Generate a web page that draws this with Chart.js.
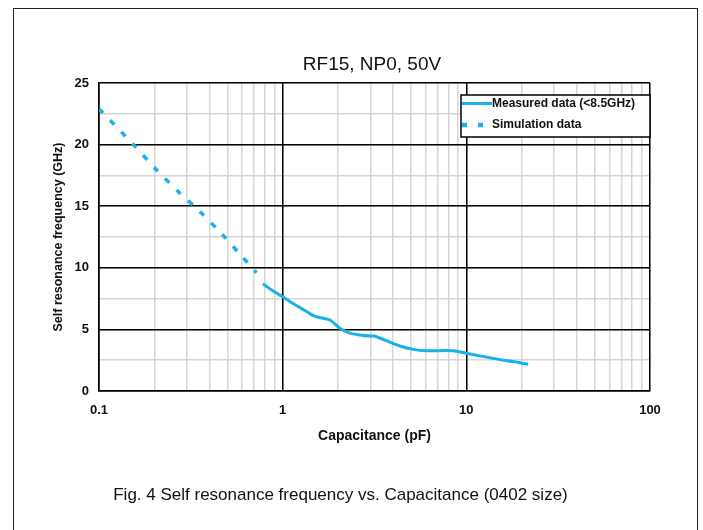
<!DOCTYPE html>
<html>
<head>
<meta charset="utf-8">
<title>Self resonance frequency vs. Capacitance</title>
<script src="https://cdn.jsdelivr.net/npm/chart.js@4.4.1/dist/chart.umd.min.js"></script>
<style>
  html, body { margin: 0; padding: 0; background: #fff; }
  body { width: 703px; height: 530px; position: relative; overflow: hidden; font-family: "Liberation Sans", Arial, sans-serif; }
  #frame { position: absolute; left: 13px; top: 8px; width: 683px; height: 540px; border: 1.5px solid #222; }
  #chart { position: absolute; left: 0; top: 0; }
  .txt { position: absolute; text-align: center; color: #111; white-space: nowrap; }
  #title { left: 0; width: 744px; top: 52px; font-size: 19px; line-height: 23px; }
  #caption { left: 0; width: 681px; top: 485px; font-size: 17px; line-height: 20px; }
</style>
</head>
<body>
<div id="frame"></div>
<canvas id="chart" width="703" height="530"></canvas>
<div id="title" class="txt">RF15, NP0, 50V</div>
<div id="caption" class="txt">Fig. 4 Self resonance frequency vs. Capacitance (0402 size)</div>
<script>
// capacitance (pF) / self resonance frequency (GHz)
const measuredCap = [0.78, 0.88, 1.0, 1.14, 1.35, 1.5, 1.66, 1.81, 2.05, 2.32, 2.64, 3.0, 3.16, 3.4, 4.35, 5.14, 6.08, 8.5, 10, 14, 16.6, 19.6, 21.7];
const measuredSrf = [8.7, 8.15, 7.65, 7.1, 6.45, 6.05, 5.9, 5.76, 5.1, 4.7, 4.55, 4.46, 4.46, 4.28, 3.65, 3.38, 3.27, 3.27, 3.06, 2.65, 2.46, 2.3, 2.17];
const simCap = [0.1, 0.154, 0.204, 0.274, 0.355, 0.466, 0.598, 0.72];
const simSrf = [22.9, 20.0, 18.0, 16.1, 14.55, 12.75, 10.95, 9.6];

const xTickLabels = [0.1, 1, 10, 100];
const yTickLabels = [0, 5, 10, 15, 20, 25];

const blue = '#19b1ea';
const fontFamily = '"Liberation Sans", Arial, sans-serif';

// grey minor grid: 2..9 within each decade, and half steps on y
const minorX = [];
for (let i = 0; i < xTickLabels.length - 1; i++) {
  for (let k = 1; k <= 9; k++) minorX.push(+(xTickLabels[i] * k).toPrecision(2));
}
minorX.push(xTickLabels[xTickLabels.length - 1]);
const minorY = [];
for (let v = 0; v <= 25; v += 2.5) minorY.push(v);

function toPoints(xs, ys) {
  return xs.map((x, i) => ({ x: x, y: ys[i] }));
}

// legend drawn as a framed box in the upper right of the plot
const boxLegend = {
  id: 'boxLegend',
  afterDraw(chart) {
    const { ctx, chartArea } = chart;
    const w = 189, h = 42;
    const left = chartArea.right - w, top = chartArea.top + 12;
    ctx.save();
    ctx.fillStyle = '#fff';
    ctx.fillRect(left, top, w, h);
    ctx.strokeStyle = '#000';
    ctx.lineWidth = 1.5;
    ctx.strokeRect(left, top, w, h);
    ctx.font = 'bold 12px ' + fontFamily;
    ctx.textBaseline = 'middle';
    chart.data.datasets.forEach((ds, i) => {
      const y = top + 8.5 + i * 21.5;
      ctx.beginPath();
      ctx.setLineDash(ds.borderDash ? [5, 11] : []);
      ctx.strokeStyle = ds.borderColor;
      ctx.lineWidth = ds.borderDash ? 4.5 : 3;
      ctx.moveTo(left + 1, y);
      ctx.lineTo(left + 31, y);
      ctx.stroke();
      ctx.setLineDash([]);
      ctx.fillStyle = '#111';
      ctx.fillText(ds.label, left + 31, y);
    });
    ctx.restore();
  }
};

const data = {
  datasets: [
    {
      label: 'Measured data (<8.5GHz)',
      data: toPoints(measuredCap, measuredSrf),
      borderColor: blue,
      borderWidth: 3,
      pointRadius: 0,
      tension: 0.3,
      xAxisID: 'x',
      yAxisID: 'y',
    },
    {
      label: 'Simulation data',
      data: toPoints(simCap, simSrf),
      borderColor: blue,
      borderWidth: 3.5,
      borderDash: [6, 10],
      pointRadius: 0,
      tension: 0.3,
      xAxisID: 'x',
      yAxisID: 'y',
    },
  ],
};

const tickFont = { family: fontFamily, size: 13, weight: 'bold' };

const config = {
  type: 'line',
  data: data,
  options: {
    responsive: false,
    animation: false,
    layout: { padding: { left: 0, right: 53, top: 83, bottom: 79 } },
    plugins: {
      legend: { display: false },
      tooltip: { enabled: false },
    },
    scales: {
      x: {
        type: 'logarithmic',
        position: 'bottom',
        min: 0.1,
        max: 100,
        afterBuildTicks: (s) => { s.ticks = xTickLabels.map((v) => ({ value: v })); },
        afterFit: (s) => { s.height = 60; },
        grid: { color: '#000', lineWidth: 1.5, drawTicks: false, z: -1 },
        border: { color: '#000', width: 1.5 },
        ticks: { padding: 12, color: '#111', font: tickFont, autoSkip: false, maxRotation: 0, callback: (v) => String(v) },
        title: { display: true, text: 'Capacitance (pF)', color: '#111', font: { family: fontFamily, size: 14, weight: 'bold' }, padding: { top: 0, bottom: 6 } },
      },
      xMinor: {
        type: 'logarithmic',
        position: 'bottom',
        min: 0.1,
        max: 100,
        afterBuildTicks: (s) => { s.ticks = minorX.map((v) => ({ value: v })); },
        afterFit: (s) => { s.height = 0; },
        grid: { color: '#d6d6d6', lineWidth: 1.5, drawTicks: false, z: -2 },
        border: { display: false },
        ticks: { display: false },
      },
      y: {
        position: 'left',
        min: 0,
        max: 25,
        afterBuildTicks: (s) => { s.ticks = yTickLabels.map((v) => ({ value: v })); },
        afterFit: (s) => { s.width = 99; },
        grid: { color: '#000', lineWidth: 1.5, drawTicks: false, z: -1 },
        border: { color: '#000', width: 1.5 },
        ticks: { padding: 10, color: '#111', font: tickFont },
        title: { display: true, text: 'Self resonance frequency (GHz)', color: '#111', font: { family: fontFamily, size: 12.5, weight: 'bold' }, padding: { top: 51, bottom: 0 } },
      },
      yMinor: {
        position: 'left',
        min: 0,
        max: 25,
        afterBuildTicks: (s) => { s.ticks = minorY.map((v) => ({ value: v })); },
        afterFit: (s) => { s.width = 0; },
        grid: { color: '#d6d6d6', lineWidth: 1.5, drawTicks: false, z: -2 },
        border: { display: false },
        ticks: { display: false },
      },
    },
  },
  plugins: [boxLegend],
};

const myChart = new Chart(document.getElementById('chart'), config);
</script>
</body>
</html>
